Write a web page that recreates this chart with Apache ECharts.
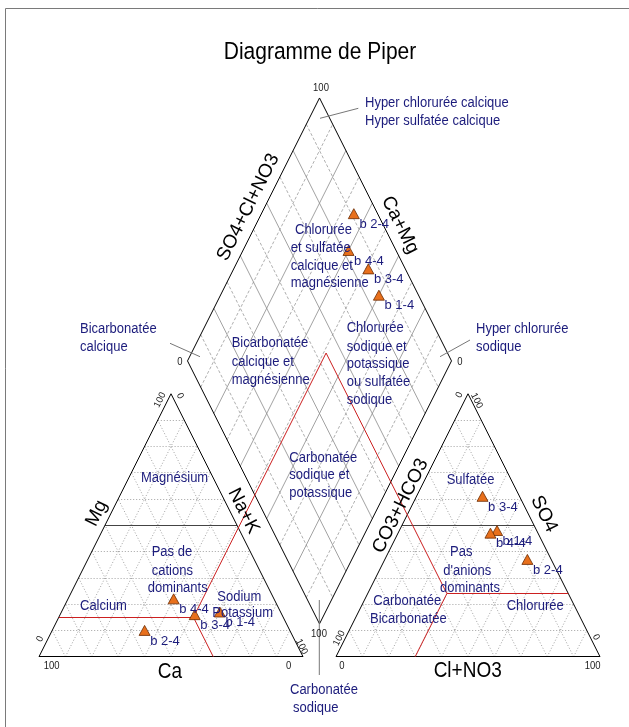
<!DOCTYPE html>
<html><head><meta charset="utf-8">
<script src="https://cdn.jsdelivr.net/npm/echarts@6/dist/echarts.min.js"></script>
<style>html,body{margin:0;padding:0;background:#fff}#c{width:629px;height:727px}</style>
</head><body><div id="c"></div>
<script>
// ---------- data (percent of meq) ----------
const samples = ['b 1-4', 'b 2-4', 'b 3-4', 'b 4-4'];
const ca   = [23, 55, 33, 38];
const mg   = [17, 10, 16, 22];
const nak  = [60, 35, 51, 40];
const hco3 = [15,  9, 14, 18];
const so4  = [48, 37, 61, 47];
const cl   = [37, 54, 25, 35];
const gridTicks = [10, 20, 30, 40, 50, 60, 70, 80, 90];
// classification boundaries (red): [Ca, Mg, Na+K] and [CO3+HCO3, SO4, Cl+NO3]
const redCation = [34, 15, 51];
const redAnion  = [46, 24, 30];

// ---------- geometry ----------
const W = 629, H = 727;
const PX0 = 39, PXS = 2.64, PY0 = 656.7, PYS = 3.036;
const S = Math.sqrt(3) / 2, GAP = 12.5;
function L(c, m, n) { return [n + m / 2, m * S]; }
function R(h, s, c) { return [100 + GAP + c + s / 2, s * S]; }
function D(a, b) { return [50 + GAP / 2 + 0.5 * (a + b), GAP * S + S * (100 + b - a)]; }

const triGrid = [], triMajor = [], diaMinor = [], diaMajor = [], outline = [], red = [];
gridTicks.forEach(t => {
  triGrid.push([L(100 - t, t, 0), L(0, t, 100 - t)]);
  triGrid.push([L(100 - t, 0, t), L(0, 100 - t, t)]);
  triGrid.push([L(t, 0, 100 - t), L(t, 100 - t, 0)]);
  triGrid.push([R(100 - t, t, 0), R(0, t, 100 - t)]);
  triGrid.push([R(100 - t, 0, t), R(0, 100 - t, t)]);
  triGrid.push([R(t, 0, 100 - t), R(t, 100 - t, 0)]);
  const tgt = (t % 20 === 0) ? diaMajor : diaMinor;
  tgt.push([D(t, 0), D(t, 100)]);
  tgt.push([D(0, t), D(100, t)]);
});
triMajor.push([L(50, 50, 0), L(0, 50, 50)]);
triMajor.push([R(50, 50, 0), R(0, 50, 50)]);
function poly(pts) { for (let i = 0; i < pts.length - 1; i++) outline.push([pts[i], pts[i + 1]]); }
poly([L(100, 0, 0), L(0, 0, 100), L(0, 100, 0), L(100, 0, 0)]);
poly([R(100, 0, 0), R(0, 0, 100), R(0, 100, 0), R(100, 0, 0)]);
poly([D(0, 0), D(100, 0), D(100, 100), D(0, 100), D(0, 0)]);

const [rc, rm, rn] = redCation;
const [rh, rs, rcl] = redAnion;
const P = L(rc, rm, rn), Q = R(rh, rs, rcl), A = D(rn, 100 - rh);
red.push([L(100 - rm, rm, 0), P], [P, L(rc, 0, 100 - rc)], [P, A]);
red.push([Q, R(0, rs, 100 - rs)], [Q, R(100 - rcl, 0, rcl)], [Q, A]);

const pts = [];
samples.forEach((nm, i) => {
  pts.push({ name: nm, value: L(ca[i], mg[i], nak[i]) });
  pts.push({ name: nm, value: R(hco3[i], so4[i], cl[i]) });
  pts.push({ name: nm, value: D(nak[i], 100 - hco3[i]) });
});

// ---------- texts ----------
const FF = '"Liberation Sans", Arial, sans-serif';
const NAVY = '#1c1c7c';
const DEG = Math.PI / 180, ROT = 63.4, STRETCH = 1.15;
function txt(t, x, y, size, color, align, rot) {
  const el = { type: 'text', x: x, y: y, rotation: (rot || 0) * DEG, z: 50,
    style: { text: t, fill: color, font: size + 'px ' + FF,
      textAlign: align, align: align, textVerticalAlign: 'middle', verticalAlign: 'middle' } };
  if (!rot) el.scaleY = STRETCH;
  return el;
}
const annotations = [
  ['Magnésium', 141, 477.7], ['Pas de', 151.7, 552.3], ['cations', 151.7, 570.7], ['dominants', 147.7, 588.3],
  ['Calcium', 80, 605.7], ['Sodium', 217.3, 596.7], ['Potassium', 212.3, 613.3],
  ['Sulfatée', 446.7, 480], ['Pas', 450, 552.3], ["d'anions", 443.3, 570.7], ['dominants', 440, 588.3],
  ['Carbonatée', 373.3, 600.7], ['Bicarbonatée', 370, 619.3], ['Chlorurée', 506.7, 605.7],
  ['Chlorurée', 295, 230], ['et sulfatée', 290.7, 248.3], ['calcique et', 290.7, 265.5], ['magnésienne', 290.7, 283.3],
  ['Bicarbonatée', 231.7, 343.3], ['calcique et', 231.7, 361.7], ['magnésienne', 231.7, 380],
  ['Chlorurée', 346.7, 328.3], ['sodique et', 346.7, 346.7], ['potassique', 346.7, 364.3], ['ou sulfatée', 346.7, 382.3], ['sodique', 346.7, 400],
  ['Carbonatée', 289.3, 457.7], ['sodique et', 289.3, 475], ['potassique', 289.3, 492.7],
  ['Hyper chlorurée calcique', 365, 102.5], ['Hyper sulfatée calcique', 365, 121],
  ['Bicarbonatée', 80, 328.5], ['calcique', 80, 347],
  ['Hyper chlorurée', 476, 329], ['sodique', 476, 347],
  ['Carbonatée', 290, 690], ['sodique', 293, 708]
];
const tickLabels = [
  ['100', 160, 400, ROT], ['0', 180, 396, -ROT], ['0', 40, 639, ROT], ['100', 51.7, 666, 0], ['0', 288.7, 666, 0], ['100', 301.7, 646.7, -ROT],
  ['0', 459.3, 395, ROT], ['100', 476.7, 400.7, -ROT], ['100', 339.3, 638.3, ROT], ['0', 342, 666, 0], ['100', 592.7, 666, 0], ['0', 596, 637.3, -ROT],
  ['100', 321, 88, 0], ['0', 180, 361.7, 0], ['0', 460, 361.7, 0], ['100', 319, 634.3, 0]
];
const axisTitles = [
  ['Mg', 96.7, 513.3, ROT], ['Ca', 170, 672, 0], ['Na+K', 243.5, 511, -ROT], ['CO3+HCO3', 400.5, 506, ROT],
  ['SO4', 544, 514, -ROT], ['Cl+NO3', 467.7, 671, 0], ['SO4+Cl+NO3', 248.3, 207.3, ROT], ['Ca+Mg', 400, 225, -ROT]
];
const callouts = [[320, 118.3, 358.3, 108.3], [170, 343.3, 200, 356.7], [440, 356.7, 470, 340], [319.3, 600, 319.3, 675]];

const graphics = [
  { type: 'rect', z: 0, shape: { x: 5.5, y: 8.5, width: 700, height: 800 }, style: { fill: 'transparent', stroke: '#7a7a7a', lineWidth: 1 } },
  txt('Diagramme de Piper', 320, 52, 21, '#000', 'center', 0)
];
annotations.forEach(a => graphics.push(txt(a[0], a[1], a[2], 13, NAVY, 'left', 0)));
tickLabels.forEach(a => graphics.push(txt(a[0], a[1], a[2], 9.5, '#222', 'center', a[3])));
axisTitles.forEach(a => graphics.push(txt(a[0], a[1], a[2], 19, '#000', 'center', a[3])));
callouts.forEach(c => graphics.push({ type: 'line', z: 5, shape: { x1: c[0], y1: c[1], x2: c[2], y2: c[3] }, style: { stroke: '#777', lineWidth: 1 } }));

function linesSeries(segs, color, width, type, z) {
  return { type: 'lines', coordinateSystem: 'cartesian2d', silent: true, z: z, polyline: false,
    data: segs.map(s => ({ coords: s })), lineStyle: { color: color, width: width, type: type, opacity: 1, curveness: 0 } };
}

const chart = echarts.init(document.getElementById('c'), null, { renderer: 'canvas' });
chart.setOption({
  animation: false,
  backgroundColor: '#fff',
  grid: { left: 0, right: 0, top: 0, bottom: 0, containLabel: false },
  xAxis: { type: 'value', min: -PX0 / PXS, max: (W - PX0) / PXS, show: false },
  yAxis: { type: 'value', min: -(H - PY0) / PYS, max: PY0 / PYS, show: false },
  graphic: { elements: graphics },
  series: [
    linesSeries(triGrid, '#8a8a8a', 0.8, [1, 2], 2),
    linesSeries(diaMinor, '#9a9a9a', 0.8, [3, 2], 2),
    linesSeries(diaMajor, '#8a8a8a', 0.8, 'solid', 2),
    linesSeries(triMajor, '#444', 1, 'solid', 3),
    linesSeries(outline, '#000', 1, 'solid', 4),
    linesSeries(red, '#cc2020', 1, 'solid', 5),
    { type: 'scatter', z: 6, data: pts, symbol: 'triangle', symbolSize: [11, 10],
      itemStyle: { color: '#e8701c', borderColor: '#6b2a00', borderWidth: 0.8, opacity: 1 },
      label: { show: true, formatter: '{b}', position: [11.5, 16], align: 'left', verticalAlign: 'middle',
        color: NAVY, fontSize: 13, fontFamily: FF } }
  ]
});
</script></body></html>
